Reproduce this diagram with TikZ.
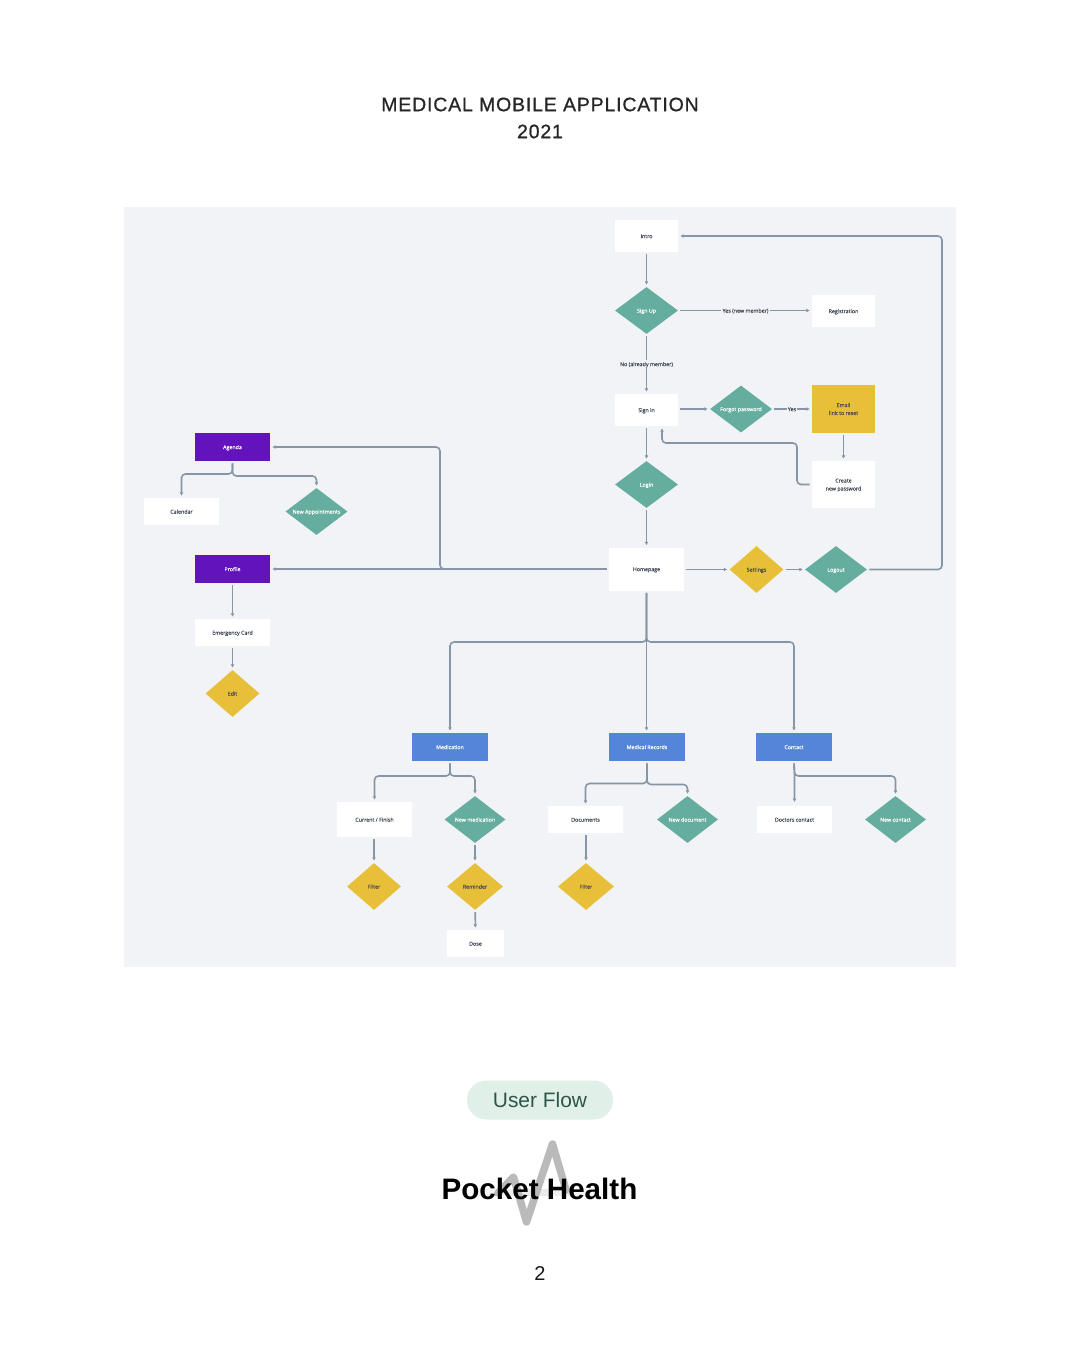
\documentclass[tikz,border=0pt]{standalone}
\usepackage{fontspec}
\setmainfont{Liberation Sans}
\newfontfamily\titlefont[LetterSpace=4.3,FakeBold=0.8]{Liberation Sans}
\newfontfamily\uifont[FakeBold=0.25]{Open Sans}
\usetikzlibrary{shapes.geometric,arrows.meta}
\definecolor{panelc}{HTML}{F1F3F7}
\definecolor{greenc}{HTML}{65AE9F}
\definecolor{yellowc}{HTML}{E8BF38}
\definecolor{purplec}{HTML}{6213BC}
\definecolor{bluec}{HTML}{5585D8}
\definecolor{linec}{HTML}{8796A6}
\definecolor{inkc}{HTML}{434A55}
\definecolor{pillc}{HTML}{E1EFE9}
\definecolor{pillink}{HTML}{2F5548}
\tikzset{
  sz/.style 2 args={minimum width=#1*0.75pt,minimum height=#2*0.75pt},
  flowtext/.style={font=\uifont\fontsize{4}{6}\selectfont,align=center,inner sep=0pt,text height=3.6pt,text depth=0.4pt},
  twolines/.style={text height=9.4pt,text depth=0.4pt},
  whitebox/.style={flowtext,rectangle,fill=white,text=inkc},
  yellowbox/.style={flowtext,rectangle,fill=yellowc,text=black!70},
  purplebox/.style={flowtext,rectangle,fill=purplec,text=white,sz={75}{28}},
  bluebox/.style={flowtext,rectangle,fill=bluec,text=white,sz={76}{28}},
  greendia/.style={flowtext,diamond,shape aspect=1.32,fill=greenc,text=white,sz={62}{47}},
  yellowdia/.style={flowtext,diamond,shape aspect=1.15,fill=yellowc,text=black!70,sz={54}{47}},
  conn/.style={draw=linec,line width=1.2pt,rounded corners=3pt,shorten <=1.5pt,shorten >=1.5pt,-{Latex[length=2.6pt,width=3pt]}},
  plainline/.style={draw=linec,line width=1.2pt,shorten <=1.5pt},
  edgelabel/.style={font=\uifont\fontsize{4}{6}\selectfont,text=inkc,inner sep=0pt,text height=3.6pt,text depth=0.4pt},
}
\begin{document}
\begin{tikzpicture}[x=0.75pt,y=-0.75pt]
\useasboundingbox (0,0) rectangle (1080,1350);
\fill[white] (0,0) rectangle (1080,1350);
\fill[panelc] (124,207) rectangle (956,967);

\node[font=\titlefont\fontsize{14.6}{20.25}\selectfont,align=center,text=black!85,inner sep=0pt] (title) at (540,118) {MEDICAL MOBILE APPLICATION\\2021};

% top column
\node[whitebox,sz={63}{32}] (intro) at (646.5,236) {Intro};
\node[greendia,sz={63}{47}] (signup) at (646.5,310.5) {Sign Up};
\node[whitebox,sz={63}{32}] (registration) at (843.5,311) {Registration};
\node[whitebox,sz={63}{32}] (signin) at (646.5,410) {Sign in};
\node[greendia] (forgot) at (741,409) {Forgot password};
\node[yellowbox,twolines,sz={63}{48}] (email) at (843.5,409) {Email\\link to reset};
\node[greendia,sz={63}{47}] (login) at (646.5,484.5) {Login};
\node[whitebox,twolines,sz={63}{47}] (create) at (843.5,484.5) {Create\\new password};
\node[whitebox,sz={75}{43}] (home) at (646.5,569) {Homepage};
\node[yellowdia] (settings) at (756.5,569.5) {Settings};
\node[greendia] (logout) at (836,569.5) {Logout};

% left column
\node[purplebox] (agenda) at (232.5,447) {Agenda};
\node[whitebox,sz={75}{27}] (calendar) at (181.5,511.5) {Calendar};
\node[greendia] (newappt) at (316.5,511.5) {New Appointments};
\node[purplebox] (profile) at (232.5,569) {Profile};
\node[whitebox,sz={75}{27}] (emergency) at (232.5,632.5) {Emergency Card};
\node[yellowdia] (edit) at (232.5,693.5) {Edit};

% lower row
\node[bluebox] (medication) at (450,747) {Medication};
\node[bluebox] (records) at (647,747) {Medical Records};
\node[bluebox] (contact) at (794,747) {Contact};
\node[whitebox,sz={75}{35}] (current) at (374.5,819.5) {Current / Finish};
\node[greendia,sz={61}{47}] (newmed) at (475,819.5) {New medication};
\node[yellowdia] (filtera) at (374,886.5) {Filter};
\node[yellowdia,sz={56}{47}] (reminder) at (475,886.5) {Reminder};
\node[whitebox,sz={57}{27}] (dose) at (475.5,943.5) {Dose};
\node[whitebox,sz={75}{27}] (documents) at (585.5,819.5) {Documents};
\node[yellowdia,sz={56}{47}] (filterb) at (586,886.5) {Filter};
\node[greendia,sz={61}{47}] (newdoc) at (687.5,819.5) {New document};
\node[whitebox,sz={75}{27}] (doctors) at (794.5,819.5) {Doctors contact};
\node[greendia,sz={61}{47}] (newcontact) at (895.5,819.5) {New contact};

% connectors
\draw[conn] (intro) -- (signup);
\draw[plainline] (signup.east) -- (721,310.5);
\coordinate (yesend) at (770,310.5);
\draw[conn,shorten <=0pt] (yesend) -- (registration.west |- yesend);
\node[edgelabel] (yeslabel) at (745.5,310.5) {Yes (new member)};
\draw[plainline] (signup.south) -- (646.5,360);
\draw[conn,shorten <=0pt] (646.5,368) -- (signin.north);
\node[edgelabel] (nolabel) at (646.5,364) {No (already member)};
\draw[conn] (signin.east |- forgot) -- (forgot.west);
\draw[plainline] (forgot.east) -- (787,409);
\draw[conn,shorten <=0pt] (797,409) -- (email.west);
\node[edgelabel] (yestwo) at (792,409) {Yes};
\draw[conn] (email) -- (create);
\draw[conn] (create.west) -- (797,484.5) -- (797,443) -- (662,443) -- ([xshift=11.6pt]signin.south);
\draw[conn] (signin) -- (login);
\draw[conn] (login) -- (home);
\draw[conn] (home.east |- settings) -- (settings.west);
\draw[conn] (settings) -- (logout);
\draw[conn] (logout.east) -- (942,569.5) -- (942,236) -- (intro.east);
\draw[conn] (home.west) -- (profile.east);
\draw[conn] (home.west) -- (440,569) -- (440,447) -- (agenda.east);
\draw[conn] (agenda.south) -- (232.5,474) -- (181.5,474) -- (calendar.north);
\draw[conn] (agenda.south) -- (232.5,476) -- (316.5,476) -- (newappt.north);
\draw[conn] (profile) -- (emergency);
\draw[conn] (emergency) -- (edit);
\draw[conn] (home.south) -- (646.5,642) -- (450,642) -- (medication.north);
\draw[conn] (home.south) -- (646.5,642) -- (794,642) -- (contact.north);
\draw[conn] (home.south) -- (records.north -| home.south);
\draw[conn] (medication.south) -- (450,776) -- (374.5,776) -- (current.north);
\draw[conn] (medication.south) -- (450,776) -- (475,776) -- (newmed.north);
\draw[conn] (records.south) -- (647,783.5) -- (585.5,783.5) -- (documents.north);
\draw[conn] (records.south) -- (647,784.5) -- (687.5,784.5) -- (newdoc.north);
\draw[conn] (contact.south) -- (794.5,775) -- (794.5,804);
\draw[conn] (contact.south) -- (794.5,776) -- (895.5,776) -- (newcontact.north);
\draw[conn] (current.south -| filtera) -- (filtera.north);
\draw[conn] (newmed) -- (reminder);
\draw[conn] (reminder) -- (dose);
\draw[conn] (documents.south -| filterb) -- (filterb.north);

% footer
\node[rectangle,rounded corners=14.5pt,fill=pillc,sz={146}{39},inner sep=0pt,text=pillink,font=\fontsize{15.7}{18}\selectfont] (pill) at (540,1100) {User Flow};
\fill[left color=white,right color=white,middle color=black!9,draw=none] (445,1189) rectangle (620,1195);
\draw[line width=5.6pt,color=black!27,line cap=round,line join=round] (498,1193) -- (513.5,1177) -- (526.5,1222) -- (552.5,1144) -- (566,1190);
\node[font=\bfseries\fontsize{22.2}{26}\selectfont,inner sep=0pt,text=black] (logotext) at (539.5,1189) {Pocket Health};
\node[font=\fontsize{15}{18}\selectfont,inner sep=0pt,text=black!90] (pagenum) at (540,1273) {2};
\end{tikzpicture}
\end{document}
